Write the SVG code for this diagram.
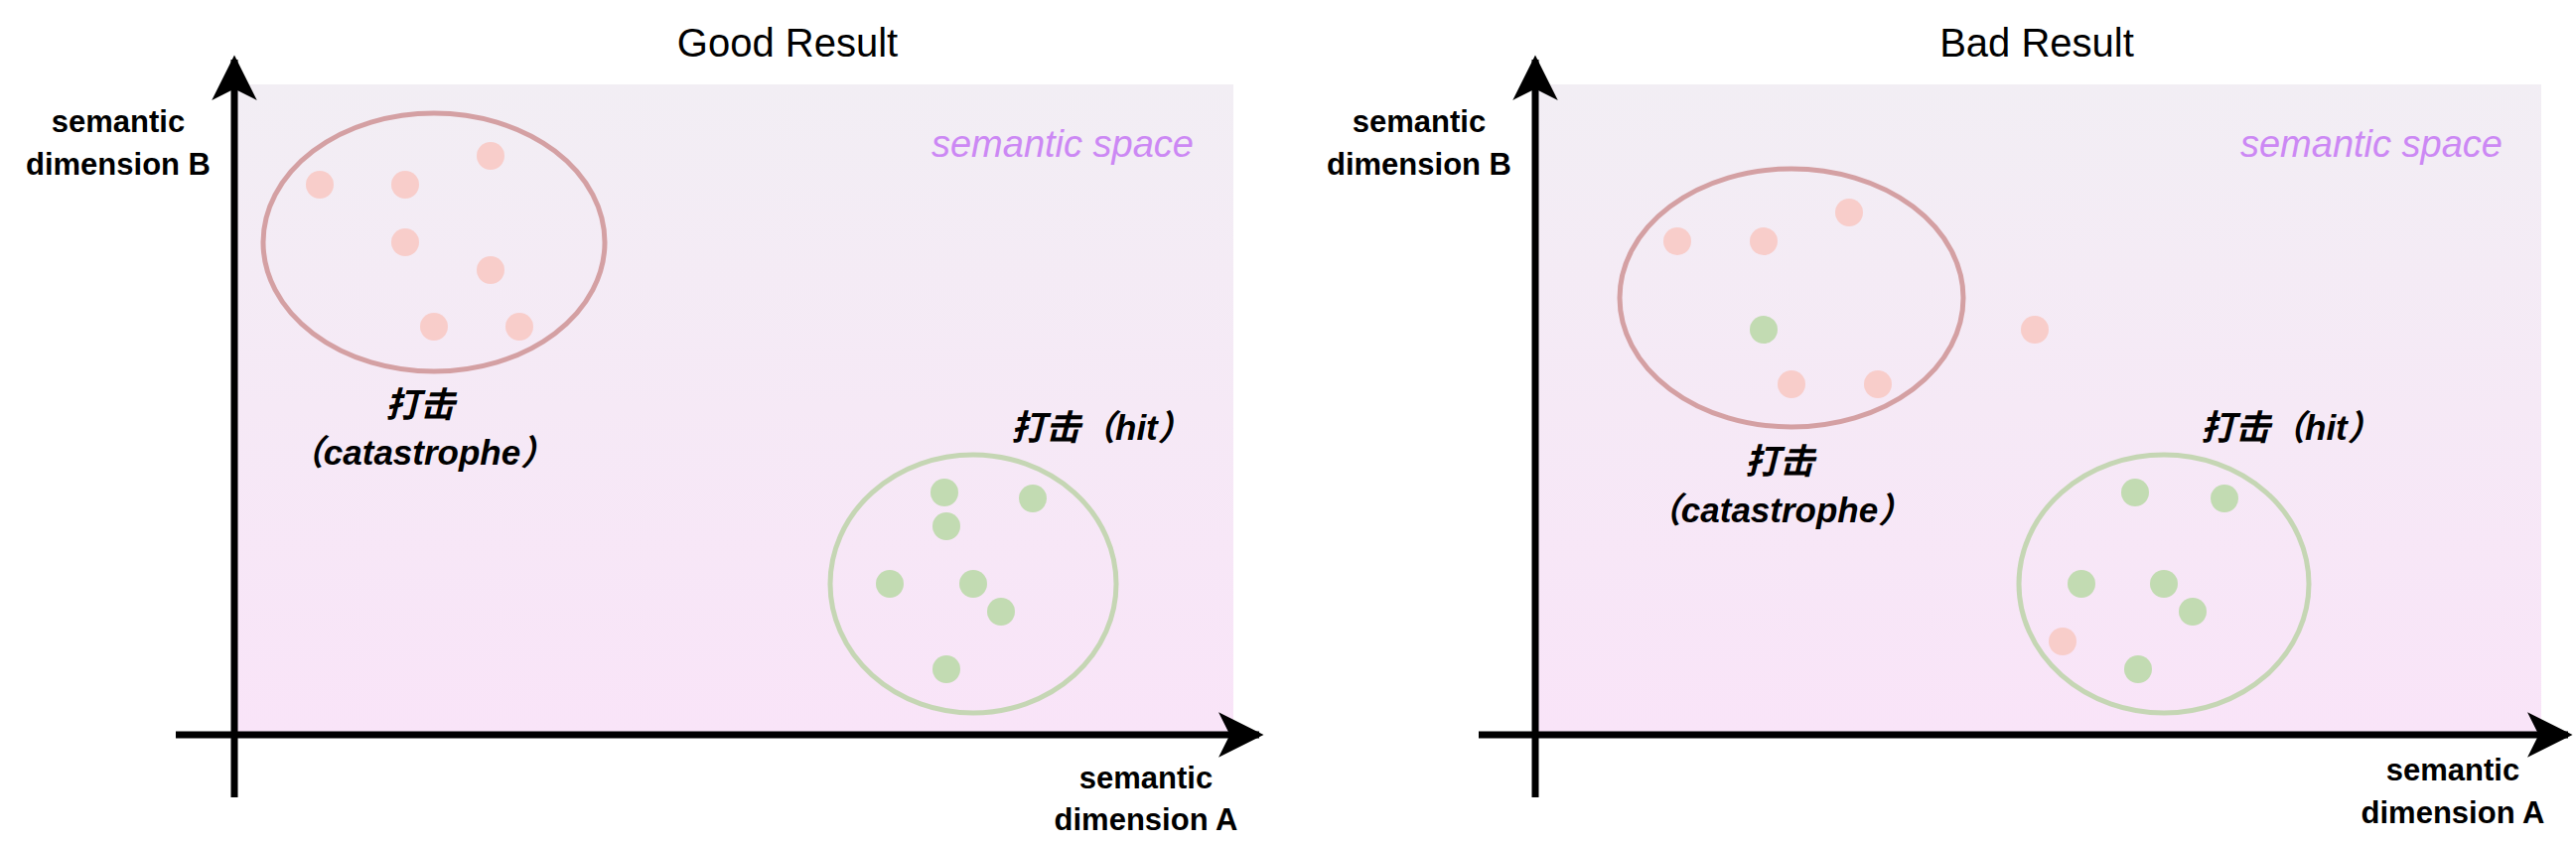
<svg xmlns="http://www.w3.org/2000/svg" width="2594" height="851" viewBox="0 0 2594 851">
<defs>
<linearGradient id="bg" x1="0" y1="0" x2="0" y2="1"><stop offset="0" stop-color="#f2eef4"/><stop offset="1" stop-color="#f9e4f8"/></linearGradient>
<marker id="ah" viewBox="0 0 10 10" refX="9" refY="5" markerWidth="6.5" markerHeight="6.5" markerUnits="strokeWidth" orient="auto"><path d="M0,0 L10,5 L0,10 L2.5,5 z" fill="#000"/></marker>
<style>
.ax{stroke:#000;stroke-width:7;fill:none}
.t{font-family:"Liberation Sans",Arial,sans-serif;font-size:40px;fill:#000}
.d{font-family:"Liberation Sans",Arial,sans-serif;font-size:31px;font-weight:bold;fill:#000;text-anchor:middle}
.sp{font-family:"Liberation Sans",Arial,sans-serif;font-size:38px;font-style:italic;fill:#cc88f4;text-anchor:end}
.l{font-family:"Liberation Sans","Noto Sans CJK SC",sans-serif;font-size:35px;font-weight:bold;font-style:italic;fill:#000}
.re{fill:none;stroke:#d4a0a3;stroke-width:5}
.ge{fill:none;stroke:#c5d6b4;stroke-width:5}
.r{fill:#f8cdca}
.g{fill:#c2dbb2}
</style>
</defs>
<rect x="237" y="85" width="1005" height="652" fill="url(#bg)"/>
<rect x="1547" y="85" width="1012" height="652" fill="url(#bg)"/>
<g id="connectors">
<line class="ax" x1="236" y1="803" x2="236" y2="60" marker-end="url(#ah)"/>
<line class="ax" x1="177" y1="740" x2="1268" y2="740" marker-end="url(#ah)"/>
<line class="ax" x1="1546" y1="803" x2="1546" y2="60" marker-end="url(#ah)"/>
<line class="ax" x1="1489" y1="740" x2="2586" y2="740" marker-end="url(#ah)"/>
</g>
<g id="left">
<text class="t" x="793" y="57" text-anchor="middle">Good Result</text>
<text class="d" x="119" y="133">semantic</text><text class="d" x="119" y="176">dimension B</text>
<text class="d" x="1154" y="794">semantic</text><text class="d" x="1154" y="836">dimension A</text>
<text class="sp" x="1202" y="158">semantic space</text>
<g id="cluster-red-l"><ellipse class="re" cx="437" cy="244" rx="172" ry="130"/>
<circle class="r" cx="322" cy="186" r="14"/><circle class="r" cx="408" cy="186" r="14"/><circle class="r" cx="494" cy="157" r="14"/><circle class="r" cx="408" cy="244" r="14"/><circle class="r" cx="494" cy="272" r="14"/><circle class="r" cx="437" cy="329" r="14"/><circle class="r" cx="523" cy="329" r="14"/></g>
<text class="l" x="423" y="420" text-anchor="middle">打击</text>
<text class="l" x="425" y="468" text-anchor="middle">（catastrophe）</text>
<g id="cluster-green-l"><ellipse class="ge" cx="980" cy="588" rx="144" ry="130"/>
<circle class="g" cx="951" cy="496" r="14"/><circle class="g" cx="1040" cy="502" r="14"/><circle class="g" cx="953" cy="530" r="14"/><circle class="g" cx="896" cy="588" r="14"/><circle class="g" cx="980" cy="588" r="14"/><circle class="g" cx="1008" cy="616" r="14"/><circle class="g" cx="953" cy="674" r="14"/></g>
<text class="l" x="1018" y="443">打击（hit）</text>
</g>
<g id="right" transform="translate(-6,0)">
<text class="t" x="2057" y="57" text-anchor="middle">Bad Result</text>
<text class="d" x="1435" y="133">semantic</text><text class="d" x="1435" y="176">dimension B</text>
<text class="d" x="2476" y="786">semantic</text><text class="d" x="2476" y="829">dimension A</text>
<text class="sp" x="2526" y="158">semantic space</text>
<g id="cluster-red-r"><ellipse class="re" cx="1810" cy="300" rx="173" ry="130"/>
<circle class="r" cx="1695" cy="243" r="14"/><circle class="r" cx="1782" cy="243" r="14"/><circle class="r" cx="1868" cy="214" r="14"/><circle class="r" cx="1810" cy="387" r="14"/><circle class="r" cx="1897" cy="387" r="14"/><circle class="g" cx="1782" cy="332" r="14"/></g>
<circle class="r" cx="2055" cy="332" r="14"/>
<text class="l" x="1798" y="477" text-anchor="middle">打击</text>
<text class="l" x="1798" y="526" text-anchor="middle">（catastrophe）</text>
<g id="cluster-green-r"><ellipse class="ge" cx="2185" cy="588" rx="146" ry="130"/>
<circle class="g" cx="2156" cy="496" r="14"/><circle class="g" cx="2246" cy="502" r="14"/><circle class="g" cx="2102" cy="588" r="14"/><circle class="g" cx="2185" cy="588" r="14"/><circle class="g" cx="2214" cy="616" r="14"/><circle class="g" cx="2159" cy="674" r="14"/><circle class="r" cx="2083" cy="646" r="14"/></g>
<text class="l" x="2222" y="443">打击（hit）</text>
</g>
</svg>
